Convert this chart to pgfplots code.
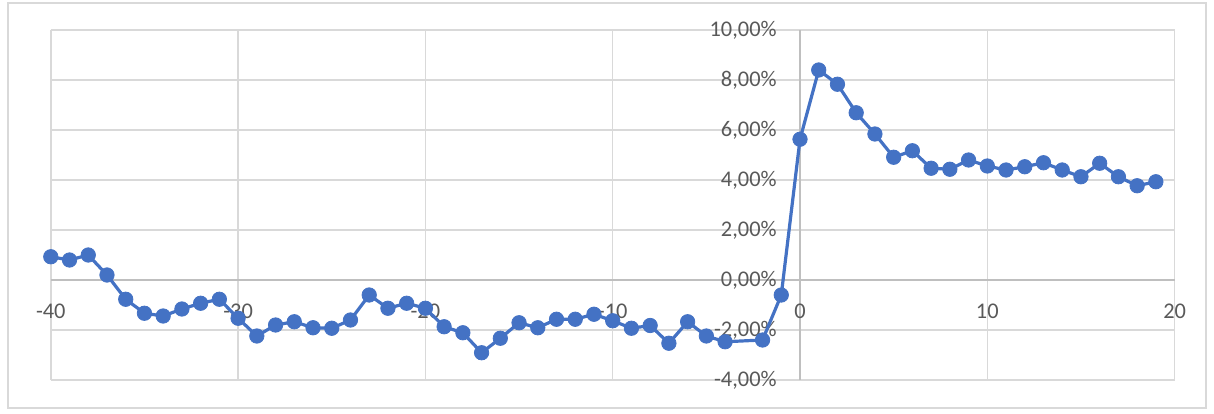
\documentclass[border=0pt]{standalone}
\usepackage{pgfplots}
\pgfplotsset{compat=1.18}
\usepackage{fontspec}
\setmainfont{Carlito}

\definecolor{xlblue}{RGB}{68,114,196}
\definecolor{gridgray}{RGB}{217,217,217}
\definecolor{axisgray}{RGB}{191,191,191}
\definecolor{labelgray}{RGB}{89,89,89}

\begin{document}
\begin{tikzpicture}
  \begin{axis}[
      at={(25.4pt,16.5pt)}, anchor=south west,
      scale only axis,
      width=561.9pt, height=175pt,
      axis lines=middle,
      axis line style={draw=axisgray, line width=0.75pt, -},
      xmin=-40, xmax=20,
      ymin=-4, ymax=10,
      xtick={-40,-30,...,20},
      xticklabels={-40,-30,-20,-10,0,10,20},
      ytick={-4,-2,...,10},
      yticklabels={{-4,00\%},{-2,00\%},{0,00\%},{2,00\%},{4,00\%},{6,00\%},{8,00\%},{10,00\%}},
      hide obscured x ticks=false,
      hide obscured y ticks=false,
      major tick length=0pt,
      grid=major,
      major grid style={draw=gridgray, line width=0.75pt},
      tick label style={font=\fontsize{11.2}{13}\selectfont, text=labelgray},
      xticklabel style={anchor=north, inner sep=0pt, yshift=-12pt},
      yticklabel style={anchor=east, inner sep=0pt, xshift=-11.5pt},
      clip=false,
    ]

    % Serie (valores en %)
    \addplot[color=xlblue, line width=1.6pt, mark=*, mark size=3.6pt,
             mark options={fill=xlblue, draw=xlblue, line width=0.4pt}]
      coordinates {
        (-40,0.93) (-39,0.80) (-38,1.00) (-37,0.20) (-36,-0.77)
        (-35,-1.33) (-34,-1.44) (-33,-1.16) (-32,-0.93) (-31,-0.77)
        (-30,-1.53) (-29,-2.24) (-28,-1.80) (-27,-1.67) (-26,-1.91)
        (-25,-1.93) (-24,-1.60) (-23,-0.60) (-22,-1.13) (-21,-0.93)
        (-20,-1.13) (-19,-1.87) (-18,-2.11) (-17,-2.91) (-16,-2.33)
        (-15,-1.71) (-14,-1.91) (-13,-1.57) (-12,-1.57) (-11,-1.37)
        (-10,-1.63) (-9,-1.93) (-8,-1.82) (-7,-2.53) (-6,-1.67)
        (-5,-2.24) (-4,-2.47) (-2,-2.40) (-1,-0.60)
        (0,5.63) (1,8.40) (2,7.83) (3,6.69) (4,5.84)
        (5,4.91) (6,5.17) (7,4.47) (8,4.43) (9,4.80)
        (10,4.56) (11,4.40) (12,4.53) (13,4.69) (14,4.40)
        (15,4.13) (16,4.67) (17,4.13) (18,3.77) (19,3.93)
      };
  \end{axis}

  % marco del gráfico
  \draw[gridgray, line width=0.75pt] (4pt,2.5pt) rectangle (603pt,205pt);
  \pgfresetboundingbox
  \useasboundingbox (0,0) rectangle (607pt,206.5pt);
\end{tikzpicture}
\end{document}
